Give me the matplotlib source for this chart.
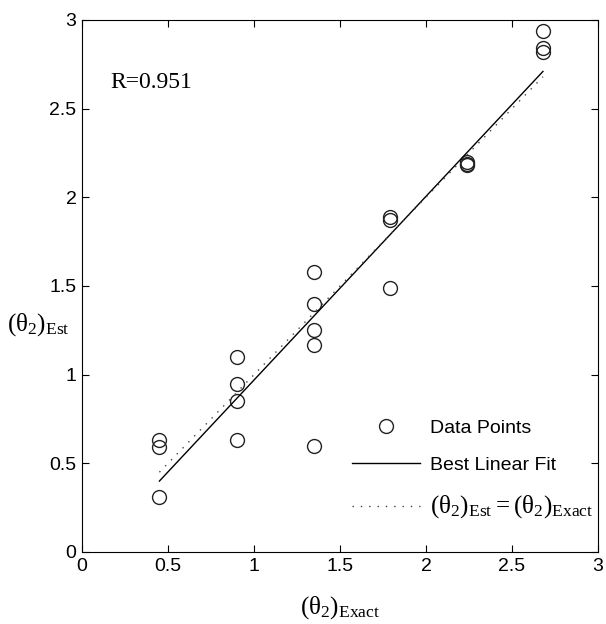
import matplotlib
matplotlib.use("Agg")
import matplotlib.pyplot as plt
import numpy as np

plt.rcParams['font.family'] = 'Liberation Sans'
plt.rcParams['mathtext.fontset'] = 'custom'
plt.rcParams['mathtext.rm'] = 'Liberation Serif'
plt.rcParams['mathtext.it'] = 'Liberation Serif'

# exact vs estimated theta_2
x_exact = [0.45, 0.45, 0.45,
           0.90, 0.90, 0.90, 0.90,
           1.35, 1.35, 1.35, 1.35, 1.35,
           1.79, 1.79, 1.79,
           2.24, 2.24, 2.24,
           2.68, 2.68, 2.68]
y_est = [0.63, 0.59, 0.31,
         1.10, 0.95, 0.85, 0.63,
         1.58, 1.40, 1.25, 1.17, 0.60,
         1.89, 1.87, 1.49,
         2.20, 2.19, 2.18,
         2.94, 2.84, 2.82]
fit_x = [0.45, 2.68]
fit_y = [0.40, 2.71]
r_value = 0.951

W, H = 606, 624
fig = plt.figure(figsize=(W / 100, H / 100), dpi=100)
ax = fig.add_axes([82 / W, 1 - 552 / H, 516 / W, 532 / H])

ax.plot(x_exact, y_est, 'o', ms=10, mfc='none', mec='#222222', mew=1.0,
        label='Data Points')
ax.plot(fit_x, fit_y, '-', color='black', lw=1.0, label='Best Linear Fit')
ax.plot(fit_x, fit_x, color='#444444', lw=1.0, ls=(0, (1, 5)),
        label=r'$\mathrm{(θ_2)_{Est}}=\mathrm{(θ_2)_{Exact}}$')

ax.set_xlim(0, 3)
ax.set_ylim(0, 3)
ticks = [0, 0.5, 1, 1.5, 2, 2.5, 3]
labels = ['0', '0.5', '1', '1.5', '2', '2.5', '3']
ax.set_xticks(ticks)
ax.set_xticklabels(labels)
ax.set_yticks(ticks)
ax.set_yticklabels(labels)
ax.tick_params(direction='in', top=True, right=True, length=5, width=0.8,
               labelsize=14, pad=4)
for s in ax.spines.values():
    s.set_linewidth(0.8)

ax.set_xlabel(r'$\mathrm{(θ_2)_{Exact}}$', fontsize=18, labelpad=14)
fig.text(7 / W, 1 - 325 / H, r'$\mathrm{(θ_2)_{Est}}$', fontsize=18,
         ha='left', va='center')

ax.text(0.163, 2.645, 'R=%.3f' % r_value, fontsize=17,
        family='Liberation Serif', va='center')

leg = ax.legend(loc='lower left',
                bbox_to_anchor=((352 - 82) / 516, (552 - 520) / 532),
                frameon=False, fontsize=14, handlelength=3.5,
                handletextpad=0.5, labelspacing=1.0, borderaxespad=0,
                borderpad=0)
leg.get_texts()[2].set_fontsize(18)

fig.savefig('out.png', dpi=100)
